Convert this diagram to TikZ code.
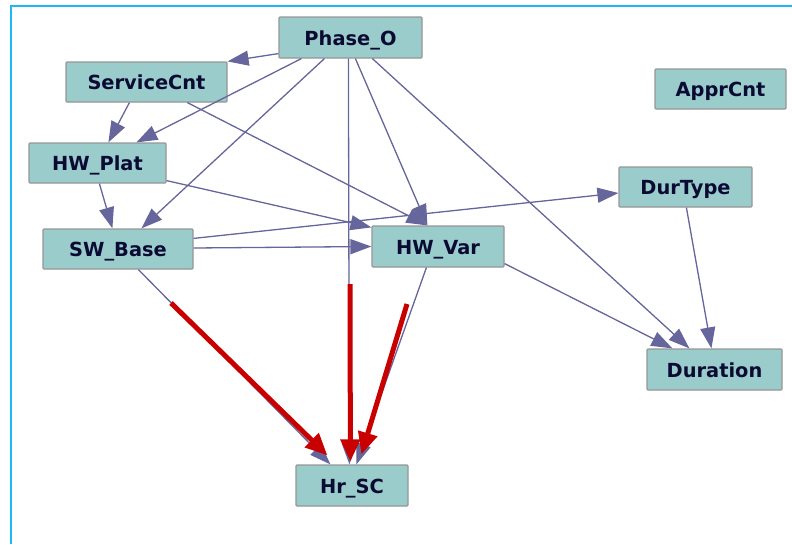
\documentclass[tikz,border=0pt]{standalone}
\usepackage{fontspec}
\setmainfont{DejaVu Sans}
\usetikzlibrary{arrows.meta,calc}

\definecolor{framecyan}{RGB}{30,185,245}
\definecolor{boxfill}{RGB}{154,204,204}
\definecolor{boxedge}{RGB}{150,150,150}
\definecolor{boxtext}{RGB}{10,10,50}
\definecolor{linkblue}{RGB}{102,102,156}
\definecolor{pathred}{RGB}{200,0,0}

\tikzset{
  var/.style={rectangle, fill=boxfill, draw=boxedge, line width=1.2pt,
    rounded corners=1pt, inner sep=0pt, text=boxtext,
    text height=15pt, text depth=0pt,
    font=\fontsize{19.4}{22}\selectfont\bfseries},
  link/.style={draw=linkblue, line width=1.3pt,
    -{Triangle[length=21pt,width=15pt]}, fill=linkblue},
  hot/.style={draw=pathred, line width=5pt,
    -{Triangle[length=22pt,width=19pt]}, fill=pathred}
}

\begin{document}
\begin{tikzpicture}[x=1pt,y=-1pt]
\useasboundingbox (0,0) rectangle (792,544);

% frame
\draw[framecyan, line width=2pt] (11,544) -- (11,6) -- (792,6);

% variables
\node[var, minimum width=143pt, minimum height=41pt] (phase) at (350.5,37.5) {Phase\_O};
\node[var, minimum width=161pt, minimum height=40pt] (svc)   at (146.5,82)   {ServiceCnt};
\node[var, minimum width=137pt, minimum height=40pt] (plat)  at (97.5,163)   {HW\_Plat};
\node[var, minimum width=150pt, minimum height=40pt] (swb)   at (118,249)    {SW\_Base};
\node[var, minimum width=132pt, minimum height=41pt] (hwv)   at (438,246.5)  {HW\_Var};
\node[var, minimum width=131pt, minimum height=40pt] (appr)  at (720.5,89)   {ApprCnt};
\node[var, minimum width=133pt, minimum height=40pt] (durt)  at (685.5,187)  {DurType};
\node[var, minimum width=135pt, minimum height=41pt] (dur)   at (714.5,369.5){Duration};
\node[var, minimum width=112pt, minimum height=41pt] (hrsc)  at (352,485.5)  {Hr\_SC};

% dependencies
\draw[link] ($(phase.south west)+(0,-5)$)  -- (svc.north east);
\draw[link] ($(phase.south west)+(23,0)$)  -- ($(plat.north west)+(108,0)$);
\draw[link] ($(svc.south west)+(64,0)$)    -- ($(plat.north west)+(80,0)$);
\draw[link] ($(phase.south west)+(46,0)$)  -- ($(swb.north west)+(99,0)$);
\draw[link] ($(plat.south west)+(71,0)$)   -- ($(swb.north west)+(70,0)$);
\draw[link] ($(svc.south west)+(122,0)$)   -- ($(hwv.north west)+(56,0)$);
\draw[link] ($(phase.south west)+(77,0)$)  -- ($(hwv.north west)+(56,0)$);
\draw[link] ($(plat.south east)+(0,-3)$)   -- ($(hwv.north west)+(0,2)$);
\draw[link] ($(swb.east)+(0,-1)$)          -- (hwv.west);
\draw[link] ($(swb.north east)+(0,10)$)    -- ($(durt.west)+(0,6)$);
\draw[link] ($(phase.south west)+(70,0)$)  -- ($(hrsc.north west)+(54,0)$);
\draw[link] ($(phase.south west)+(94,0)$)  -- ($(dur.north west)+(43,0)$);
\draw[link] ($(hwv.south east)+(0,-4)$)    -- ($(dur.north west)+(26,0)$);
\draw[link] ($(durt.south west)+(68,0)$)   -- ($(dur.north west)+(65,0)$);
\draw[link] ($(swb.south west)+(96,0)$)    -- ($(hrsc.north west)+(35,0)$);
\draw[link] ($(hwv.south west)+(55,0)$)    -- ($(hrsc.north west)+(61,0)$);

% highlighted influences on Hr_SC
\coordinate (fromswb) at (171,303);
\coordinate (fromphase) at (350,284);
\coordinate (fromhwv) at (407,304);
\draw[hot] (fromswb)   -- ($(hrsc.north west)+(32,-9)$);
\draw[hot] (fromphase) -- ($(hrsc.north west)+(55,-3)$);
\draw[hot] (fromhwv)   -- ($(hrsc.north west)+(66,-10)$);
\end{tikzpicture}
\end{document}
